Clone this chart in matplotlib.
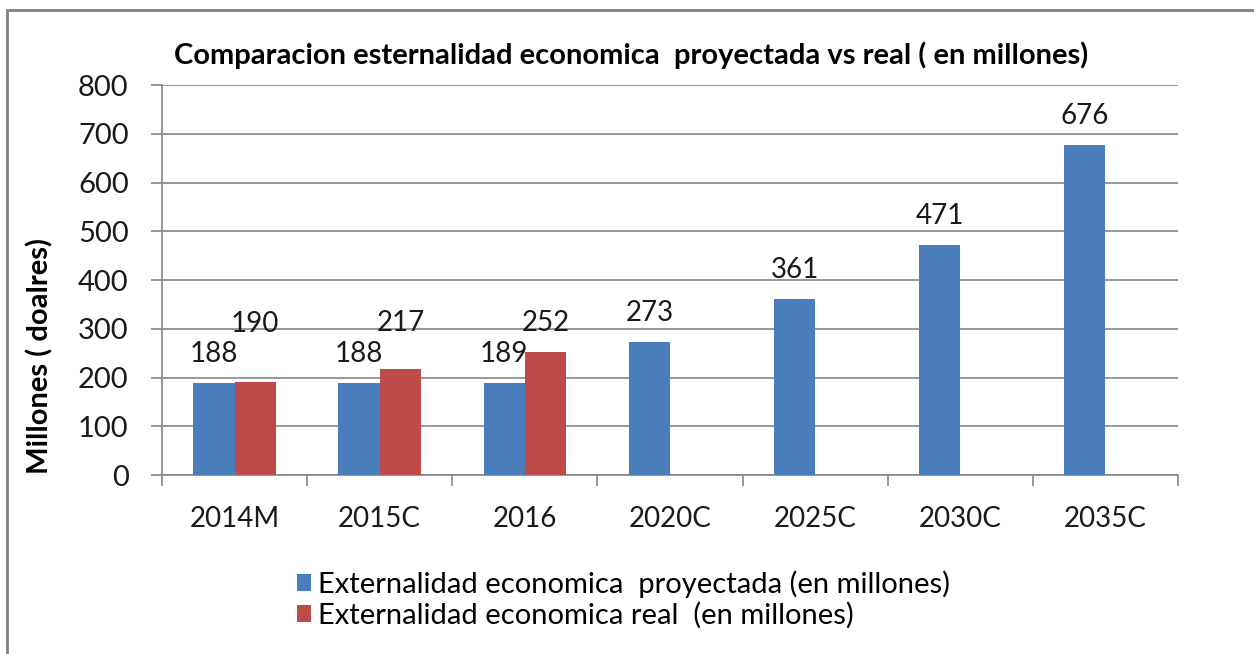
import numpy as np
import matplotlib
matplotlib.use("Agg")
import matplotlib.pyplot as plt
from matplotlib.patches import Rectangle

# datos
categorias = ["2014M", "2015C", "2016", "2020C", "2025C", "2030C", "2035C"]
proyectada = [188, 188, 189, 273, 361, 471, 676]
real = [190, 217, 252, None, None, None, None]
# desplazamiento de las etiquetas (puntos sobre la barra)
offset_proy = [21, 21, 21, 21, 21, 21, 21]
offset_real = [42, 33, 21, 0, 0, 0, 0]

titulo = "Comparacion esternalidad economica  proyectada vs real ( en millones)"
ylabel = "Millones ( doalres)"
leyenda = ["Externalidad economica  proyectada (en millones)",
           "Externalidad economica real  (en millones)"]

azul = "#4A7EBB"
rojo = "#BE4B48"
gris = "#868686"

plt.rcParams['font.family'] = ['Lato', 'DejaVu Sans']

fig = plt.figure(figsize=(12.54, 6.54), dpi=100)
ax = fig.add_axes([0.1292, 0.2737, 0.9394 - 0.1292, 0.870 - 0.2737])

x = np.arange(len(categorias))
w = 0.285
b1 = ax.bar(x - w / 2, proyectada, w, color=azul, label=leyenda[0], zorder=3)
xr = [xi + w / 2 for xi, v in zip(x, real) if v is not None]
vr = [v for v in real if v is not None]
b2 = ax.bar(xr, vr, w, color=rojo, label=leyenda[1], zorder=3)

for xi, v, o in zip(x, proyectada, offset_proy):
    ax.annotate(str(v), (xi - w / 2, v), xytext=(0, o), textcoords="offset points",
                ha="center", va="center", fontsize=20, color="#1a1a1a")
for xi, v, o in zip(xr, vr, offset_real):
    ax.annotate(str(v), (xi, v), xytext=(0, o), textcoords="offset points",
                ha="center", va="center", fontsize=20, color="#1a1a1a")

ax.set_xlim(-0.5, len(categorias) - 0.5)
ax.set_ylim(0, 800)
ax.set_yticks(np.arange(0, 801, 100))
ax.yaxis.grid(True, color=gris, linewidth=1.2, zorder=0)
ax.set_xticks(x)
ax.set_xticklabels(categorias)
ax.set_xticks(np.arange(-0.5, len(categorias), 1), minor=True)
ax.tick_params(axis="x", which="major", length=0, pad=22, labelsize=20, labelcolor="#1a1a1a")
ax.tick_params(axis="x", which="minor", length=8, width=1.2, color=gris)
ax.tick_params(axis="y", length=8, width=1.2, color=gris, pad=16, labelsize=21, labelcolor="#1a1a1a")
for s in ["top", "right"]:
    ax.spines[s].set_visible(False)
for s in ["left", "bottom"]:
    ax.spines[s].set_color(gris)
    ax.spines[s].set_linewidth(1.2)

fig.text(0.503, 0.916, titulo, ha="center", va="center", fontsize=21, fontweight="bold")
fig.text(0.032, 0.456, ylabel, ha="center", va="center", rotation=90, fontsize=21, fontweight="bold")

fig.legend(handles=[b1, b2], loc="upper left", bbox_to_anchor=(0.237, 0.128),
           bbox_transform=fig.transFigure, ncol=1, frameon=False, fontsize=21,
           handlelength=0.48, handleheight=0.48, handletextpad=0.25, labelspacing=0.14,
           borderaxespad=0, borderpad=0)

# borde del grafico
fig.patches.append(Rectangle((7 / 1254, -0.1), 1.2, (654 - 10) / 654 + 0.1,
                             transform=fig.transFigure, fill=False,
                             edgecolor="#7f7f7f", linewidth=2))

fig.savefig("out.png", dpi=100)
